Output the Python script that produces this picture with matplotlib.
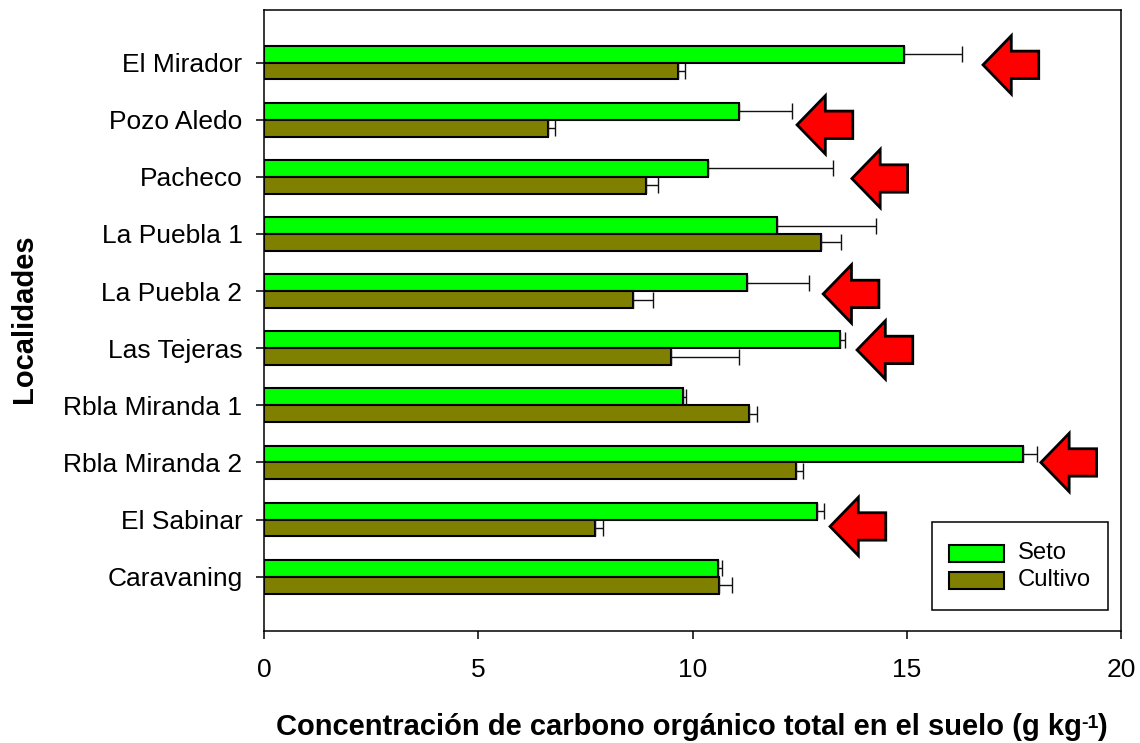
#!/usr/bin/env python3
"""Soil organic carbon by locality, hedge vs crop."""
import matplotlib
matplotlib.use("Agg")
import matplotlib.pyplot as plt
from matplotlib.patches import Polygon, Rectangle
import numpy as np

plt.rcParams["font.family"] = ["Liberation Sans", "DejaVu Sans"]

LOCALIDADES = ["El Mirador", "Pozo Aledo", "Pacheco", "La Puebla 1", "La Puebla 2",
               "Las Tejeras", "Rbla Miranda 1", "Rbla Miranda 2", "El Sabinar", "Caravaning"]
SETO = [14.93, 11.08, 10.37, 11.98, 11.27, 13.45, 9.78, 17.72, 12.90, 10.60]
SETO_ERR = [1.37, 1.25, 2.92, 2.30, 1.46, 0.10, 0.07, 0.33, 0.18, 0.10]
CULTIVO = [9.67, 6.63, 8.92, 13.00, 8.62, 9.50, 11.32, 12.42, 7.73, 10.63]
CULTIVO_ERR = [0.15, 0.17, 0.28, 0.47, 0.45, 1.58, 0.18, 0.15, 0.18, 0.30]
# arrow tip positions in data coords (x value, y on the locality axis)
ARROW_TIPS = [(16.78, 0.04), (12.44, 1.09), (13.72, 2.03), (13.05, 4.05),
              (13.84, 5.03), (18.13, 7.0), (13.21, 8.12)]

W, H = 1140, 743
FS = 19
FS_BOLD = 20.95
fig = plt.figure(figsize=(W / 100, H / 100), dpi=100)
ax = fig.add_axes([264 / W, 1 - 631 / H, (1121 - 264) / W, (631 - 10) / H])

y = np.arange(len(LOCALIDADES))
bar_h = 0.295
err = dict(ecolor="#111111", elinewidth=1.0, capsize=6, capthick=1.0)
ax.barh(y - bar_h / 2, SETO, bar_h, color="#00ff00", ec="black", lw=1.5, xerr=[[0] * 10, SETO_ERR], error_kw=err, label="Seto")
ax.barh(y + bar_h / 2, CULTIVO, bar_h, color="#808000", ec="black", lw=1.5, xerr=[[0] * 10, CULTIVO_ERR], error_kw=err, label="Cultivo")

ax.set_xlim(0, 20)
ax.set_ylim(9.95, -0.92)
ax.set_yticks(y, LOCALIDADES)
ax.set_xticks([0, 5, 10, 15, 20])
ax.tick_params(axis="both", labelsize=FS, length=5.5, width=1.1)
ax.tick_params(axis="y", pad=10)
ax.tick_params(axis="x", pad=14)
for s in ax.spines.values():
    s.set_linewidth(1.1)

# block arrows pointing left
for tx, ty in ARROW_TIPS:
    head, tail = 0.66, 1.30
    dy_head, dy_tail = 0.51, 0.24
    pts = [(tx, ty), (tx + head, ty - dy_head), (tx + head, ty - dy_tail),
           (tx + tail, ty - dy_tail), (tx + tail, ty + dy_tail),
           (tx + head, ty + dy_tail), (tx + head, ty + dy_head)]
    ax.add_patch(Polygon(pts, closed=True, fc="#ff0000", ec="black", lw=2, zorder=5))

# legend box
ax.add_patch(Rectangle((932 / W, 1 - 610 / H), 176 / W, 88 / H, transform=fig.transFigure,
                       fc="white", ec="black", lw=1.1, zorder=6, clip_on=False))
for yy, col, lab in [(553, "#00ff00", "Seto"), (580, "#808000", "Cultivo")]:
    ax.add_patch(Rectangle((949 / W, 1 - (yy + 8.5) / H), 55 / W, 17 / H, transform=fig.transFigure,
                           fc=col, ec="black", lw=1.5, zorder=7, clip_on=False))
    fig.text(1018 / W, 1 - yy / H, lab, fontsize=17.2, va="center", zorder=8)

fig.text(24 / W, 1 - 319 / H, "Localidades", rotation=90, fontsize=FS_BOLD, fontweight="bold", ha="center", va="center")
fig.text(276 / W, 1 - 735 / H, "Concentración de carbono orgánico total en el suelo (g kg",
         fontsize=FS_BOLD, fontweight="bold", ha="left", va="baseline")
fig.text(1081 / W, 1 - 728 / H, "-1", fontsize=14, fontweight="bold", ha="left", va="baseline")
fig.text(1097 / W, 1 - 735 / H, ")", fontsize=FS_BOLD, fontweight="bold", ha="left", va="baseline")

fig.savefig("out.png", dpi=100)
